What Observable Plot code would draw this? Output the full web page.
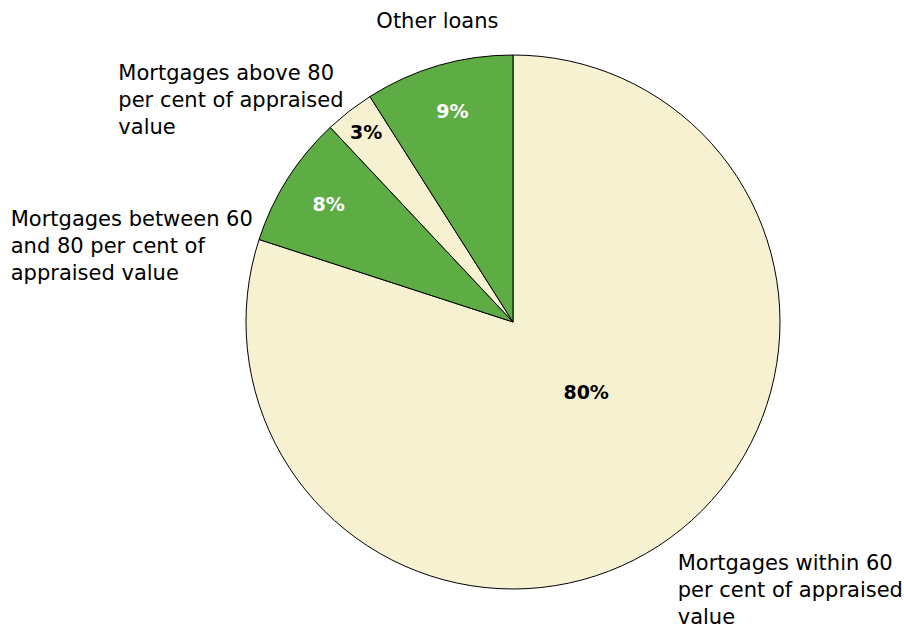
<!DOCTYPE html>
<html>
<head>
<meta charset="utf-8">
<script src="https://cdn.jsdelivr.net/npm/d3@7"></script>
<script src="https://cdn.jsdelivr.net/npm/@observablehq/plot@0.6"></script>
<style>
  html, body { margin: 0; padding: 0; background: #fff; }
</style>
</head>
<body>
<div id="chart"></div>
<script>
// Data (clockwise from 12 o'clock)
const categories = [
  "Mortgages within 60 per cent of appraised value",
  "Mortgages between 60 and 80 per cent of appraised value",
  "Mortgages above 80 per cent of appraised value",
  "Other loans"
];
const shares = [80, 8, 3, 9];
const percentLabels = ["80%", "8%", "3%", "9%"];
const labelLines = [
  ["Mortgages within 60", "per cent of appraised", "value"],
  ["Mortgages between 60", "and 80 per cent of", "appraised value"],
  ["Mortgages above 80", "per cent of appraised", "value"],
  ["Other loans"]
];

// Styling / layout
const fills = ["#f6f1d0", "#5eac44", "#f6f1d0", "#5eac44"];
const pctColors = ["#000", "#fff", "#000", "#fff"];
const pctRadius = [0.38, 0.82, 0.90, 0.82];
const pctAngleShift = [-0.17, 0, 0, 0];
// outer label anchor in pie units (relative to centre, radius = 1)
const outerPos = [[0.615, -0.903], [-1.883, 0.385], [-1.48, 0.935], [-0.285, 1.13]];
const outerAnchor = ["start", "start", "start", "middle"];

const W = 904, H = 627, cx = 513, cy = 322, R = 267;

const pie = d3.pie().sort(null).value(d => d)(shares);
const rows = pie.map((p, i) => ({
  i, start: p.startAngle, end: p.endAngle,
  name: categories[i], pct: percentLabels[i]
}));

const pctData = rows.map(r => {
  const a = (r.start + r.end) / 2 + pctAngleShift[r.i];
  return {x: Math.sin(a) * pctRadius[r.i], y: Math.cos(a) * pctRadius[r.i], text: r.pct, color: pctColors[r.i]};
});

const outerData = [];
rows.forEach(r => {
  labelLines[r.i].forEach((line, k) => {
    outerData.push({x: outerPos[r.i][0], y: outerPos[r.i][1], line: k, text: line, anchor: outerAnchor[r.i]});
  });
});

function slices(index, scales) {
  const x0 = scales.x(0), y0 = scales.y(0);
  const rad = scales.x(1) - scales.x(0);
  const arc = d3.arc().innerRadius(0).outerRadius(rad);
  const g = d3.create("svg:g").attr("transform", `translate(${x0},${y0})`);
  g.selectAll("path").data(rows).join("path")
    .attr("d", d => arc({startAngle: d.start, endAngle: d.end}))
    .attr("fill", d => fills[d.i])
    .attr("stroke", "#000")
    .attr("stroke-width", 1)
    .attr("stroke-linejoin", "round");
  return g.node();
}

const chart = Plot.plot({
  width: W, height: H,
  marginTop: 0, marginRight: 0, marginBottom: 0, marginLeft: 0,
  x: {domain: [-1, 1], range: [cx - R, cx + R], axis: null},
  y: {domain: [-1, 1], range: [cy + R, cy - R], axis: null},
  style: {fontFamily: "'DejaVu Sans', Verdana, sans-serif", background: "#fff"},
  marks: [
    Plot.dot([{x: 0, y: 0}], {x: "x", y: "y", r: 0, stroke: "none"}),
    slices,
    Plot.text(pctData, {x: "x", y: "y", text: "text", fill: d => d.color, fontSize: 19, fontWeight: "bold"}),
    ...[0, 1, 2].map(k => Plot.text(outerData.filter(d => d.line === k && d.anchor === "start"), {
      x: "x", y: "y", text: "text", fill: "#000", fontSize: 21, textAnchor: "start", dy: k * 27
    })),
    Plot.text(outerData.filter(d => d.anchor === "middle"), {
      x: "x", y: "y", text: "text", fill: "#000", fontSize: 21, textAnchor: "middle"
    })
  ]
});
document.getElementById("chart").appendChild(chart);
</script>
</body>
</html>
